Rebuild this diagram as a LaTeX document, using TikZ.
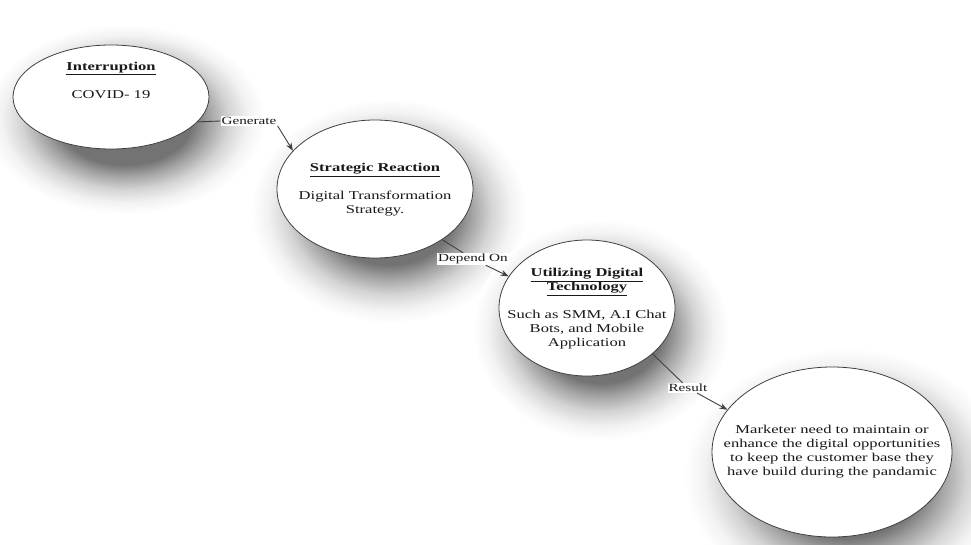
\documentclass[tikz,border=0pt]{standalone}
\usepackage{fontspec}
\setmainfont[FakeStretch=1.38]{Liberation Serif}
\usetikzlibrary{shapes.geometric,arrows.meta}
\pgfdeclareradialshading{softshadow}{\pgfpoint{0bp}{0bp}}{%
  color(0bp)=(black!55); color(12bp)=(black!55); color(15bp)=(black!36);
  color(18.5bp)=(black!17); color(22bp)=(black!5); color(25bp)=(white); color(50bp)=(white)}
\begin{document}
\begin{tikzpicture}[x=1pt,y=-1pt,
  bubble/.style={ellipse,draw=black!75,line width=0.8pt,fill=white,inner sep=0pt},
  shadowblob/.style={shading=softshadow},
  btext/.style={align=center,font=\fontsize{12}{14}\selectfont,text=black!90,inner sep=0pt},
  lbl/.style={fill=white,inner sep=1pt,font=\fontsize{11}{12}\selectfont,text=black!90},
  conn/.style={draw=black!75,line width=0.9pt},
  arr/.style={conn,-{Stealth[length=8pt,width=6pt]}}]
\useasboundingbox (0,0) rectangle (971,544);
\fill[white] (0,0) rectangle (971,544);
% shadows
\shade[shadowblob] (125,119) ellipse [x radius=140pt,y radius=95pt];
\shade[shadowblob] (389,211) ellipse [x radius=138pt,y radius=112pt];
\shade[shadowblob] (601,330) ellipse [x radius=128pt,y radius=110pt];
\shade[shadowblob] (846,476) ellipse [x radius=162pt,y radius=128pt];
% ellipses
\node[bubble,minimum width=196pt,minimum height=104pt] (e1) at (111,97) {};
\node[bubble,minimum width=196pt,minimum height=138pt] (e2) at (375,189) {};
\node[bubble,minimum width=176pt,minimum height=136pt] (e3) at (587,308) {};
\node[bubble,minimum width=240pt,minimum height=170pt] (e4) at (832,452) {};
% texts
\node[btext] (t1) at (111,80) {\textbf{\underline{Interruption}}\\[14pt]COVID- 19};
\node[btext] (t2) at (375,190) {\textbf{\underline{Strategic Reaction}}\\[14pt]Digital Transformation\\Strategy.};
\node[btext] (t3) at (587,309) {\textbf{\underline{Utilizing Digital}}\\\textbf{\underline{Technology}}\\[14pt]Such as SMM, A.I Chat\\Bots, and Mobile\\Application};
\node[btext] (t4) at (832,452) {Marketer need to maintain or\\enhance the digital opportunities\\to keep the customer base they\\have build during the pandamic};
% connector labels
\node[lbl] (g) at (249,121) {Generate};
\node[lbl] (d) at (473,259) {Depend On};
\node[lbl] (r) at (688,388) {Result};
% connectors
\draw[conn] (e1.-16) -- (g.west);
\draw[arr] (g.south east) -- (e2.155);
\draw[conn] (e2.-37) -- (d);
\draw[arr] (d) -- (e3.158);
\draw[conn] (e3.-35) -- (r);
\draw[arr] (r) -- (e4.158);
\end{tikzpicture}
\end{document}
